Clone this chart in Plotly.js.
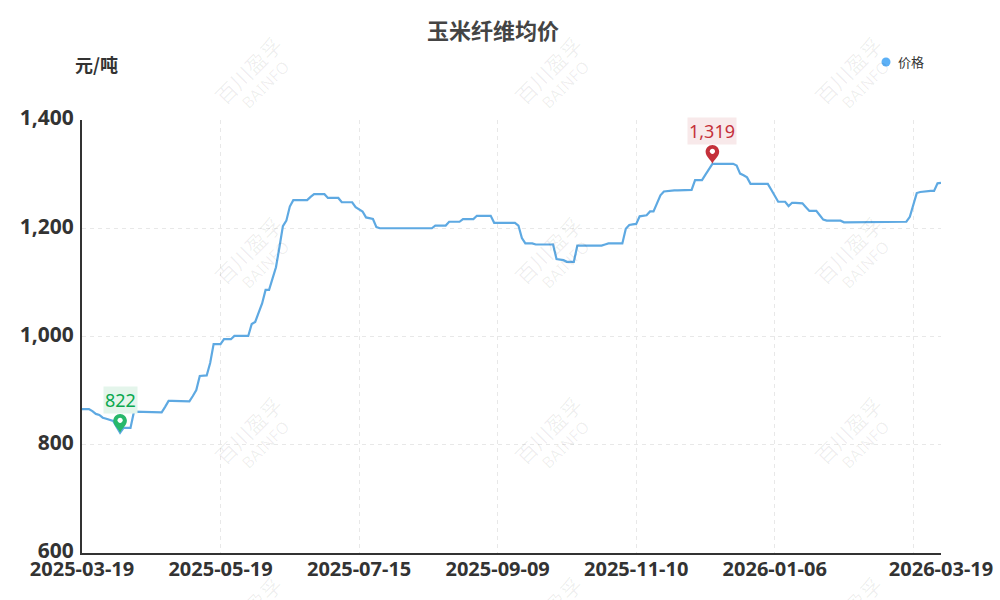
<!DOCTYPE html>
<html><head><meta charset="utf-8">
<script src="https://cdn.plot.ly/plotly-3.0.1.min.js"></script>
<style>html,body{margin:0;padding:0;background:#fff}#c{width:1000px;height:600px}</style>
</head><body><div id="c"></div>
<script>
const seriesName = '价格';
const chartTitle = '玉米纤维均价';
const unitLabel = '元/吨';
const closedDays = ['2025-04-04','2025-05-01','2025-05-02','2025-06-02','2025-10-01','2025-10-02','2025-10-03','2025-10-06','2026-01-01','2026-02-16','2026-02-17','2026-02-18','2026-02-19'];
const prices = [
866,866,866,862,857,855,850,848,846,844,
833,822,831,831,831,861,861,861,861,861,
861,861,860,860,870,881,881,881,880,880,
880,880,890,901,927,927,928,951,986,986,
986,995,995,995,1001,1001,1001,1001,1001,1023,
1027,1044,1061,1086,1086,1107,1128,1165,1204,1214,
1240,1252,1252,1252,1252,1252,1258,1263,1263,1263,
1263,1256,1256,1256,1256,1248,1248,1248,1248,1239,
1235,1231,1220,1218,1217,1202,1200,1200,1200,1200,
1200,1200,1200,1200,1200,1200,1200,1200,1200,1200,
1200,1200,1205,1205,1205,1205,1212,1212,1212,1212,
1217,1217,1217,1217,1223,1223,1223,1223,1223,1210,
1210,1210,1210,1210,1210,1210,1205,1182,1172,1172,
1172,1170,1170,1170,1170,1170,1170,1143,1142,1141,
1138,1138,1138,1168,1168,1168,1168,1168,1168,1168,
1168,1170,1172,1172,1172,1172,1172,1199,1206,1207,
1208,1222,1223,1224,1231,1231,1246,1261,1268,1269,
1270,1270,1270,1270,1271,1271,1271,1289,1289,1289,
1299,1309,1319,1319,1319,1319,1319,1319,1319,1316,
1301,1298,1294,1282,1282,1282,1282,1282,1282,1271,
1260,1249,1249,1249,1241,1247,1247,1247,1246,1239,
1232,1232,1232,1224,1216,1214,1214,1214,1214,1214,
1211,1211,1211,1211,1211,1211,1211,1211,1211,1211,
1211,1211,1211,1211,1211,1212,1212,1212,1212,1221,
1243,1265,1267,1268,1268,1269,1269,1283,1284];
const labelledTicks = {0:true,40:true,80:true,120:true,160:true,200:true,248:true};
const tickIndexes = [0,40,80,120,160,200,240,248];
const yTicks = [600,800,1000,1200,1400];

// trading calendar: weekdays, minus the closed days above
const dates = [];
for (let d = new Date(Date.UTC(2025,2,19)); dates.length < prices.length; d.setUTCDate(d.getUTCDate()+1)) {
  const s = d.toISOString().slice(0,10), w = d.getUTCDay();
  if (w !== 0 && w !== 6 && !closedDays.includes(s)) dates.push(s);
}
const minV = Math.min(...prices), maxV = Math.max(...prices);
const minDate = dates[prices.indexOf(minV)], maxDate = dates[prices.indexOf(maxV)];

const W = 1000, H = 600, L = 82, R = 59, T = 120, B = 47;
const px = x => (x-L)/(W-L-R), py = y => 1-(y-T)/(H-T-B);

// pin glyph, relative to its tip, built from bezier segments only
function circ(cy, r){ const k = r*0.5523;
  return `M${-r},${cy} C${-r},${cy+k} ${-k},${cy+r} 0,${cy+r} C${k},${cy+r} ${r},${cy+k} ${r},${cy} C${r},${cy-k} ${k},${cy-r} 0,${cy-r} C${-k},${cy-r} ${-r},${cy-k} ${-r},${cy} Z`; }
const pinPath = 'M0,0 C-1,3.5 -6.8,7 -6.8,12 C-6.8,15.8 -3.8,18.8 0,18.8 C3.8,18.8 6.8,15.8 6.8,12 C6.8,7 1,3.5 0,0 Z';
function pin(date, val, color){
  const base = {type:'path',xref:'x',yref:'y',xsizemode:'pixel',ysizemode:'pixel',xanchor:date,yanchor:val,layer:'above'};
  return [Object.assign({},base,{path:pinPath,fillcolor:color,line:{width:0}}),
          Object.assign({},base,{path:circ(12.5,2.6),fillcolor:'#ffffff',line:{width:0}})];
}
const wmColor = 'rgba(0,0,0,0.065)';
const anns = [];
[248,548,848].forEach(cx=>[70,250,430,610].forEach(cy=>{
  anns.push({xref:'paper',yref:'paper',x:px(cx),y:py(cy),text:'百川盈孚',showarrow:false,textangle:-45,xanchor:'center',yanchor:'middle',
    font:{family:'"Noto Sans CJK SC",sans-serif',size:21,color:wmColor}});
  anns.push({xref:'paper',yref:'paper',x:px(cx+17),y:py(cy+15),text:'BAINFO',showarrow:false,textangle:-45,xanchor:'center',yanchor:'middle',
    font:{family:'"Noto Sans",sans-serif',size:16,color:wmColor}});
}));
anns.push({xref:'paper',yref:'paper',x:px(96),y:py(63.5),text:'<b>'+unitLabel+'</b>',showarrow:false,xanchor:'center',yanchor:'middle',
  font:{family:'"Noto Sans CJK SC",sans-serif',size:18,color:'#333333'}});
anns.push({xref:'paper',yref:'paper',x:px(897),y:py(62),text:seriesName,showarrow:false,xanchor:'left',yanchor:'middle',xshift:-1,
  font:{family:'"Noto Sans CJK SC",sans-serif',size:13,color:'#333333'}});
anns.push({xref:'x',yref:'y',x:minDate,y:minV,ax:0,ay:-33,axref:'pixel',ayref:'pixel',showarrow:true,arrowwidth:0.1,arrowcolor:'rgba(0,0,0,0)',
  text:String(minV),xanchor:'center',yanchor:'middle',bgcolor:'#e4f5eb',borderpad:1,
  font:{family:'"Noto Sans",sans-serif',size:18,color:'#0aa84f'}});
anns.push({xref:'x',yref:'y',x:maxDate,y:maxV,ax:0,ay:-33,axref:'pixel',ayref:'pixel',showarrow:true,arrowwidth:0.1,arrowcolor:'rgba(0,0,0,0)',
  text:maxV.toLocaleString('en-US'),xanchor:'center',yanchor:'middle',bgcolor:'#f8e9ea',borderpad:1,
  font:{family:'"Noto Sans",sans-serif',size:18,color:'#c4303a'}});

const traces = [
 {type:'scatter',mode:'lines',x:dates,y:prices,name:seriesName,showlegend:false,hoverinfo:'x+y',
  line:{color:'#5ea9e2',width:2.2}}
];
const legendDot = {type:'circle',xref:'paper',yref:'paper',x0:px(881.5),x1:px(890.5),y0:py(66.5),y1:py(57.5),fillcolor:'#5cb0f6',line:{width:0},layer:'above'};
const layout = {
 width:W,height:H,margin:{l:L,r:R,t:T,b:B,pad:0},paper_bgcolor:'#fff',plot_bgcolor:'#fff',showlegend:false,
 title:{text:'<b>'+chartTitle+'</b>',x:px(493),xref:'paper',xanchor:'center',y:1-31/H,yref:'container',yanchor:'middle',
   font:{family:'"Noto Sans CJK SC",sans-serif',size:22,color:'#444444'}},
 xaxis:{type:'category',categoryorder:'array',categoryarray:dates,range:[0,prices.length-1],
   tickmode:'array',tickvals:tickIndexes.map(i=>dates[i]),ticktext:tickIndexes.map(i=>labelledTicks[i]?dates[i]:''),
   tickangle:0,ticks:'',showline:true,linecolor:'#333333',linewidth:2,showgrid:true,gridcolor:'#e8e8e8',griddash:'4px,4px',gridwidth:1,zeroline:false,
   ticklabelstandoff:-3,
   tickfont:{family:'"Noto Sans",sans-serif',size:20,color:'#333333',weight:700},automargin:false},
 yaxis:{range:[600,1400],tickmode:'array',tickvals:yTicks,tickformat:',d',ticks:'',showline:true,linecolor:'#333333',linewidth:2,
   showgrid:true,gridcolor:'#e8e8e8',griddash:'4px,4px',gridwidth:1,zeroline:false,ticklabelstandoff:2,ticklabelshift:-2,
   tickfont:{family:'"Noto Sans",sans-serif',size:21,color:'#333333',weight:700},automargin:false},
 shapes:[...pin(minDate,minV,'#27b86a'),...pin(maxDate,maxV,'#c4303a'),legendDot],
 annotations:anns
};
Plotly.newPlot('c',traces,layout,{displayModeBar:false,responsive:false});
</script></body></html>
